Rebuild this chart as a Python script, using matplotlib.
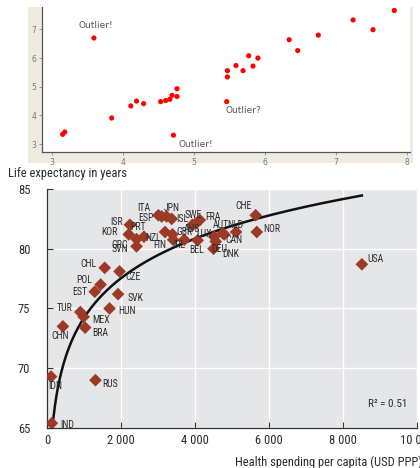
import numpy as np
import matplotlib
matplotlib.use("Agg")
import matplotlib.pyplot as plt
from matplotlib import font_manager
from matplotlib.patches import Rectangle

# top panel: generic scatter with outliers
top_x = [3.15, 3.18, 3.59, 3.84, 4.11, 4.19, 4.29, 4.53, 4.60, 4.66, 4.69, 4.76, 4.76,
         4.71, 5.46, 5.47, 5.47, 5.59, 5.69, 5.77, 5.83, 5.90, 6.34, 6.46, 6.75, 7.24,
         7.52, 7.82]
top_y = [3.34, 3.42, 6.70, 3.91, 4.33, 4.50, 4.41, 4.48, 4.52, 4.56, 4.70, 4.93, 4.66,
         3.31, 4.48, 5.56, 5.34, 5.74, 5.56, 6.08, 5.72, 6.00, 6.64, 6.26, 6.80, 7.33,
         6.99, 7.66]
top_notes = ["Outlier!", "Outlier?", "Outlier!"]
top_note_xy = [(3.38, 7.15), (5.44, 4.18), (4.78, 3.0)]

# bottom panel: life expectancy vs health spending
countries = ["USA", "NOR", "CHE", "NLD", "CAN", "AUT", "DEU", "DNK", "LUX", "BEL",
             "FRA", "SWE", "AUS", "IRL", "JPN", "ISL", "GBR", "FIN", "NZL", "ITA",
             "ESP", "SVN", "PRT", "GRC", "ISR", "KOR", "CZE", "SVK", "HUN", "CHL",
             "POL", "EST", "MEX", "TUR", "BRA", "CHN", "RUS", "IDN", "IND"]
spending = [8510, 5670, 5640, 5110, 4790, 4750, 4560, 4500, 4520, 4070,
            4130, 4020, 3930, 3710, 3230, 3370, 3390, 3410, 3190, 3010,
            3100, 2420, 2620, 2420, 2240, 2210, 1960, 1920, 1690, 1560,
            1450, 1290, 990, 900, 1030, 430, 1310, 110, 130]
life_exp = [78.7, 81.4, 82.8, 81.4, 81.2, 81.3, 80.6, 80.0, 81.0, 80.7,
            82.4, 82.1, 82.0, 80.75, 82.7, 82.5, 81.2, 80.75, 81.4, 82.8,
            82.7, 80.2, 81.0, 80.8, 82.0, 81.2, 78.1, 76.2, 75.0, 78.4,
            77.0, 76.4, 74.3, 74.7, 73.4, 73.5, 69.0, 69.3, 65.4]
# logarithmic trend line as shown in the chart
fit_a, fit_b = 41.2, 4.78
fit_range = (130, 8510)
r2_text = "R² = 0.51"

# label offsets in points (dx, dy, ha)
lab_off = {
    "USA": (4, 4, "left"), "NOR": (5, 2, "left"), "CHE": (-3, 7, "right"),
    "NLD": (-6, 5, "left"), "CAN": (1, -4, "left"), "AUT": (-7, 6, "left"),
    "DEU": (-3, -5, "left"), "DNK": (6, -4, "left"), "LUX": (-2, 2, "right"),
    "BEL": (-6, -7, "left"), "FRA": (4, 2, "left"), "SWE": (-8, 6, "left"),
    "AUS": (-6, -3, "left"), "IRL": (-8, -4, "left"), "JPN": (-2, 6, "left"),
    "ISL": (3, 0, "left"), "GBR": (3, 2, "left"), "FIN": (-5, -4, "right"),
    "NZL": (-3, -4, "right"), "ITA": (-6, 5, "right"), "ESP": (-6, -1, "right"),
    "SVN": (-6, -2, "right"), "PRT": (-4, 7, "center"), "GRC": (-6, -4, "right"),
    "ISR": (-5, 2, "right"), "KOR": (-8, 2, "right"), "CZE": (4, -4, "left"),
    "SVK": (7, -3, "left"), "HUN": (6, -2, "left"), "CHL": (-6, 3, "right"),
    "POL": (-6, 3, "right"), "EST": (-5, 0, "right"), "MEX": (6, -2, "left"),
    "TUR": (-6, 3, "right"), "BRA": (5, -4, "left"), "CHN": (-2, -7, "center"),
    "RUS": (5, -3, "left"), "IDN": (-2, -7, "left"), "IND": (6, -1, "left"),
}


def pick_font(cands):
    for f in cands:
        try:
            font_manager.findfont(font_manager.FontProperties(family=f),
                                  fallback_to_default=False)
            return f
        except Exception:
            pass
    return "DejaVu Sans"


narrow = pick_font(["Liberation Sans Narrow", "Roboto Condensed", "Open Sans Condensed",
                    "DejaVu Sans Condensed", "Liberation Sans"])
nar = [narrow, "DejaVu Sans"]
dark = "#2b2b2b"

fig = plt.figure(figsize=(4.2, 4.68), dpi=100)
fig.patch.set_facecolor("white")

# beige frame behind the top chart
fig.patches.append(Rectangle((0.0667, 0.652), 0.917, 0.333, transform=fig.transFigure,
                             facecolor="#efebe1", edgecolor="none", zorder=-5))

ax1 = fig.add_axes([0.0993, 0.675, 0.8767, 0.31])
ax1.set_zorder(2)
ax1.set_facecolor("white")
ax1.scatter(top_x, top_y, s=14, c="#ff0000", marker="o", edgecolors="none", zorder=3)
for t, (tx, ty) in zip(top_notes, top_note_xy):
    ax1.text(tx, ty, t, fontsize=6.5, color="#555555", va="center", ha="left")
ax1.set_xlim(2.855, 8.04)
ax1.set_ylim(2.72, 7.78)
ax1.set_xticks(range(3, 9))
ax1.set_yticks(range(3, 8))
for s in ["top", "right"]:
    ax1.spines[s].set_visible(False)
for s in ["left", "bottom"]:
    ax1.spines[s].set_color("#555555")
    ax1.spines[s].set_linewidth(0.9)
ax1.tick_params(labelsize=5.5, labelcolor="#777777", color="#888888", length=2, width=0.6, pad=2)

# bottom chart
ax2 = fig.add_axes([0.1119, 0.0855, 0.881, 0.5107])
ax2.set_facecolor("#e5e6e8")
ax2.grid(True, color="white", linewidth=1.0)
ax2.set_axisbelow(True)

xs = np.linspace(fit_range[0], fit_range[1], 400)
ax2.plot(xs, fit_a + fit_b * np.log(xs), color="#111111", lw=1.8, zorder=2)

ax2.scatter(spending, life_exp, s=42, marker="D", c="#9c3a26", edgecolors="none", zorder=3)
for c, sx, ly in zip(countries, spending, life_exp):
    dx, dy, ha = lab_off[c]
    ax2.annotate(c, (sx, ly), xytext=(dx, dy), textcoords="offset points",
                 fontsize=7, family=nar, color=dark, ha=ha, va="center", zorder=4)

ax2.text(0.975, 0.1, r2_text, transform=ax2.transAxes, fontsize=8, family=nar,
         color=dark, ha="right", va="center")

ax2.set_xlim(0, 10000)
ax2.set_ylim(65, 85)
ax2.set_xticks(range(0, 10001, 2000))
ax2.set_xticklabels(["0", "2 000", "4 000", "6 000", "8 000", "10 000"])
ax2.set_yticks(range(65, 86, 5))
for s in ["top", "right"]:
    ax2.spines[s].set_visible(False)
for s in ["left", "bottom"]:
    ax2.spines[s].set_color("#333333")
    ax2.spines[s].set_linewidth(0.9)
ax2.tick_params(direction="in", length=4, width=0.8, color="#333333", labelsize=9,
                labelcolor=dark, pad=4)
for lab in ax2.get_xticklabels() + ax2.get_yticklabels():
    lab.set_family(nar)
ax2.tick_params(axis="y", pad=12)

fig.text(8 / 420, 1 - 173 / 468, "Life expectancy in years", fontsize=9, family=nar,
         color=dark, ha="left", va="center")
fig.text(235 / 420, 1 - 462 / 468, "Health spending per capita (USD PPP)", fontsize=9,
         family=nar, color=dark, ha="left", va="center")

fig.savefig("out.png", dpi=100)
